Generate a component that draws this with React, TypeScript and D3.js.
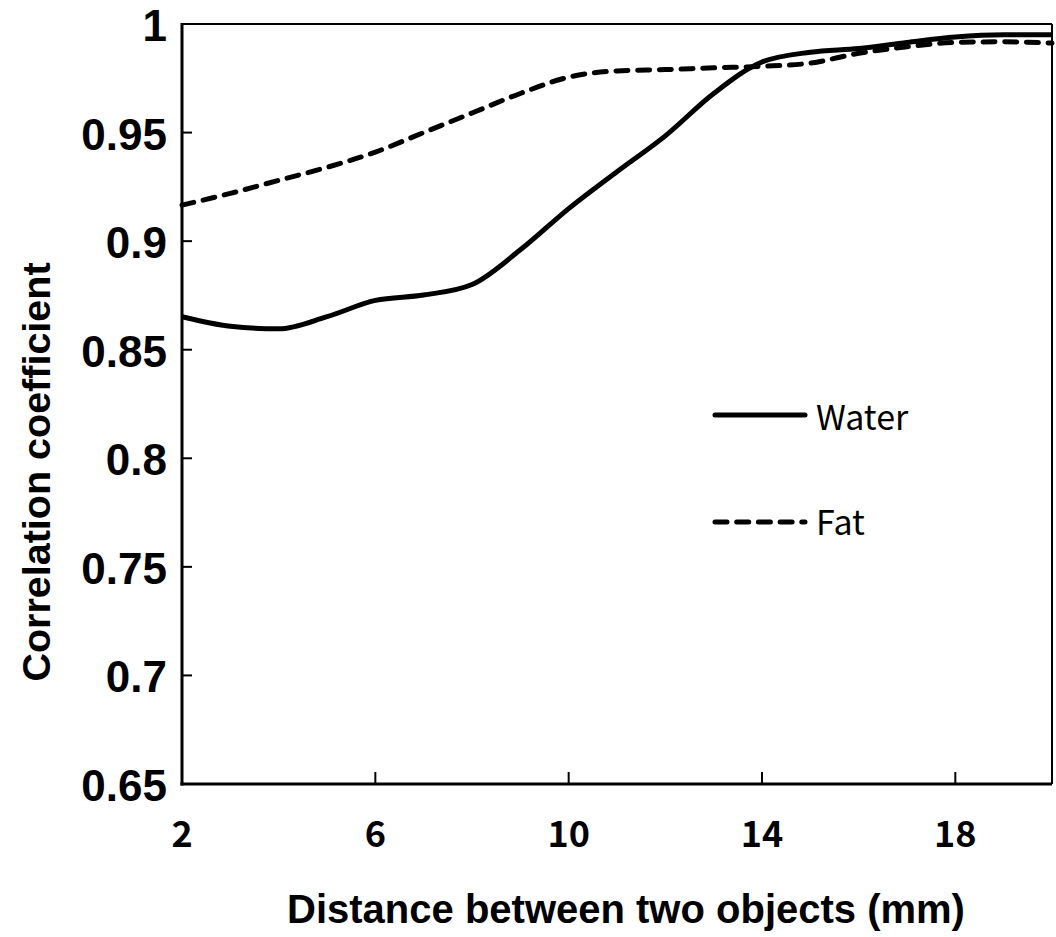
import React from 'react';
import { scaleLinear, line, curveMonotoneX, range } from 'd3';

const distances = [2, 3, 4, 5, 6, 7, 8, 9, 10, 11, 12, 13, 14, 15, 16, 17, 18, 19, 20];
const waterValues = [0.8652, 0.8608, 0.8596, 0.8652, 0.8727, 0.8752, 0.88, 0.896, 0.915, 0.932, 0.9485, 0.968, 0.9825, 0.987, 0.9887, 0.9915, 0.994, 0.995, 0.995];
const fatValues = [0.9166, 0.922, 0.928, 0.934, 0.941, 0.95, 0.959, 0.968, 0.9755, 0.9784, 0.979, 0.9798, 0.9805, 0.982, 0.9865, 0.9895, 0.9915, 0.9918, 0.9912];
const xTicks = [2, 6, 10, 14, 18];
const yTicks = range(0, 8).map((i) => +(0.65 + i * 0.05).toFixed(2));
const seriesNames = ['Water', 'Fat'];

const width = 1056;
const height = 937;
const margin = { top: 24, right: 4, bottom: 153, left: 182 };
const dash = '12 9.7';

const App = () => {
    // scales
    const xScale = scaleLinear().domain([2, 20]).range([margin.left, width - margin.right]);
    const yScale = scaleLinear().domain([0.65, 1]).range([height - margin.bottom, margin.top]);

    const lineFn = line<number>()
        .curve(curveMonotoneX)
        .x((d, i) => xScale(distances[i]))
        .y((d) => yScale(d));

    const x0 = xScale.range()[0];
    const x1 = xScale.range()[1];
    const y0 = yScale.range()[0];
    const y1 = yScale.range()[1];

    return (
        <div style={{ position: 'absolute', left: 0, top: 0 }}>
            <svg width={width} height={height} style={{ display: 'block', background: '#fff' }}>
                {/* frame */}
                <line x1={x0} x2={x1} y1={y1} y2={y1} stroke="#000" strokeWidth={2} />
                <line x1={x1} x2={x1} y1={y1} y2={y0} stroke="#000" strokeWidth={2} />

                {/* y ticks */}
                {yTicks.map((t) => (
                    <g key={t}>
                        <line x1={x0} x2={x0 + 10} y1={yScale(t)} y2={yScale(t)} stroke="#000" strokeWidth={2} />
                        <text
                            x={167}
                            y={yScale(t) + 17}
                            textAnchor="end"
                            fontFamily="Liberation Sans, Arial, sans-serif"
                            fontWeight="bold"
                            fontSize={44}
                        >
                            {t}
                        </text>
                    </g>
                ))}

                {/* x ticks */}
                {xTicks.map((t) => (
                    <g key={t}>
                        <line x1={xScale(t)} x2={xScale(t)} y1={y0} y2={y0 - 12} stroke="#000" strokeWidth={2} />
                        <text
                            x={xScale(t)}
                            y={847}
                            textAnchor="middle"
                            fontFamily="Noto Sans CJK JP, sans-serif"
                            fontWeight="bold"
                            fontSize={36}
                        >
                            {t}
                        </text>
                    </g>
                ))}

                {/* axes */}
                <line x1={x0} x2={x0} y1={y1 - 1} y2={y0 + 1.5} stroke="#000" strokeWidth={3} />
                <line x1={x0 - 1.5} x2={x1} y1={y0} y2={y0} stroke="#000" strokeWidth={3} />

                {/* series */}
                <path d={lineFn(waterValues) || ''} fill="none" stroke="#000" strokeWidth={5} />
                <path
                    d={lineFn(fatValues) || ''}
                    fill="none"
                    stroke="#000"
                    strokeWidth={5}
                    strokeDasharray={dash}
                    strokeLinecap="round"
                />

                {/* legend */}
                <line x1={715} x2={805} y1={415} y2={415} stroke="#000" strokeWidth={5} strokeLinecap="round" />
                <line
                    x1={715}
                    x2={805}
                    y1={522}
                    y2={522}
                    stroke="#000"
                    strokeWidth={5}
                    strokeDasharray={dash}
                    strokeLinecap="round"
                />
                {seriesNames.map((s, i) => (
                    <text key={s} x={816} y={i === 0 ? 430 : 535} fontFamily="Noto Sans CJK JP, sans-serif" fontSize={34}>
                        {s}
                    </text>
                ))}

                {/* axis titles */}
                <text
                    x={(x0 + x1) / 2 + 9}
                    y={923}
                    textAnchor="middle"
                    fontFamily="Liberation Sans, Arial, sans-serif"
                    fontWeight="bold"
                    fontSize={40}
                >
                    Distance between two objects (mm)
                </text>
                <text
                    transform={`translate(50, 472) rotate(-90)`}
                    textAnchor="middle"
                    fontFamily="Liberation Sans, Arial, sans-serif"
                    fontWeight="bold"
                    fontSize={39.5}
                >
                    Correlation coefficient
                </text>
            </svg>
        </div>
    );
};

export default App;
